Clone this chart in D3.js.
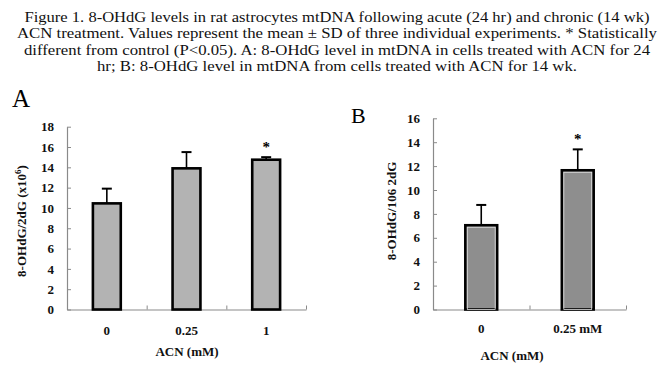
<!DOCTYPE html>
<html>
<head>
<meta charset="utf-8">
<script src="https://cdn.jsdelivr.net/npm/d3@7"></script>
<style>
  body { margin: 0; background: #fff; }
  svg { display: block; }
  text { font-family: "Liberation Serif", "Times New Roman", serif; }
</style>
</head>
<body>
<div id="graph"></div>
<script>
// constantes
const w = 669;
const h = 372;

// données - figure A (24 hr)
const catsA = ["0", "0.25", "1"];
const meanA = [10.45, 13.9, 14.75];
const sdA = [1.45, 1.6, 0.25];
const starA = [false, false, true];
const ticksA = [0, 2, 4, 6, 8, 10, 12, 14, 16, 18];

// données - figure B (14 wk)
const catsB = ["0", "0.25 mM"];
const meanB = [7.05, 11.65];
const sdB = [1.7, 1.75];
const starB = [false, true];
const ticksB = [0, 2, 4, 6, 8, 10, 12, 14, 16];

// légende (texte)
const titleLines = [
  "Figure 1. 8-OHdG levels in rat astrocytes mtDNA following acute (24 hr) and chronic (14 wk)",
  "ACN treatment. Values represent the mean \u00b1 SD of three individual experiments. * Statistically",
  "different from control (P<0.05). A: 8-OHdG level in mtDNA in cells treated with ACN for 24",
  "hr; B: 8-OHdG level in mtDNA from cells treated with ACN for 14 wk."
];
const titleWidths = [625, 640, 626, 480];

const svg = d3.select("#graph")
  .append("svg")
  .attr("width", w)
  .attr("height", h);

// titre
svg.append("g")
  .selectAll("text")
  .data(titleLines)
  .enter()
  .append("text")
  .attr("x", 337)
  .attr("y", (d, i) => 21.5 + i * 16.5)
  .attr("text-anchor", "middle")
  .attr("font-size", "15px")
  .attr("fill", "#111")
  .attr("textLength", (d, i) => titleWidths[i])
  .attr("lengthAdjust", "spacingAndGlyphs")
  .text(d => d);

// fonction de dessin d'un graphique
function barChart(opt) {
  const g = svg.append("g");

  const y = d3.scaleLinear().domain(opt.yDomain).range([opt.y0, opt.y1]);
  const x = d3.scaleBand().domain(opt.cats).range([opt.x0, opt.x1])
    .paddingInner(opt.pad).paddingOuter(opt.pad / 2);
  const xi = d3.scaleLinear().domain([0, opt.cats.length]).range([opt.x0, opt.x1]);

  // axe y
  const axeY = g.append("g")
    .attr("transform", "translate(" + opt.x0 + ",0)")
    .call(d3.axisLeft(y).tickValues(opt.ticks).tickSizeInner(-4).tickSizeOuter(0).tickPadding(13));
  axeY.select(".domain").attr("stroke", "#8a8a8a").attr("stroke-width", 1.2);
  axeY.selectAll(".tick line").attr("stroke", "#8a8a8a");
  axeY.selectAll(".tick text")
    .attr("font-family", "Liberation Serif")
    .attr("font-weight", "bold")
    .attr("font-size", "13px")
    .attr("fill", "#111");

  // axe x : graduations entre les catégories
  const axeXt = g.append("g")
    .attr("transform", "translate(0," + opt.y0 + ")")
    .call(d3.axisBottom(xi).ticks(opt.cats.length).tickSizeInner(-4).tickSizeOuter(0).tickFormat(""));
  axeXt.select(".domain").attr("stroke", "#8a8a8a").attr("stroke-width", 1.2);
  axeXt.selectAll(".tick line").attr("stroke", "#8a8a8a")
    .filter(d => d === 0).remove();

  // axe x : libellés
  const axeX = g.append("g")
    .attr("transform", "translate(0," + opt.y0 + ")")
    .call(d3.axisBottom(x).tickSize(0).tickPadding(opt.labPad));
  axeX.select(".domain").remove();
  axeX.selectAll(".tick text")
    .attr("font-family", "Liberation Serif")
    .attr("font-weight", "bold")
    .attr("font-size", "13px")
    .attr("fill", "#111");

  // barres d'erreur
  g.selectAll(".err")
    .data(opt.cats)
    .enter()
    .append("line")
    .attr("x1", d => x(d) + x.bandwidth() / 2)
    .attr("x2", d => x(d) + x.bandwidth() / 2)
    .attr("y1", (d, i) => y(opt.mean[i]))
    .attr("y2", (d, i) => y(opt.mean[i] + opt.sd[i]))
    .attr("stroke", "#000")
    .attr("stroke-width", 1.6);

  g.selectAll(".cap")
    .data(opt.cats)
    .enter()
    .append("line")
    .attr("x1", d => x(d) + x.bandwidth() / 2 - 5)
    .attr("x2", d => x(d) + x.bandwidth() / 2 + 5)
    .attr("y1", (d, i) => y(opt.mean[i] + opt.sd[i]))
    .attr("y2", (d, i) => y(opt.mean[i] + opt.sd[i]))
    .attr("stroke", "#000")
    .attr("stroke-width", 2);

  // barres
  g.selectAll(".bar")
    .data(opt.cats)
    .enter()
    .append("rect")
    .attr("x", d => x(d))
    .attr("y", (d, i) => y(opt.mean[i]))
    .attr("width", x.bandwidth())
    .attr("height", (d, i) => opt.y0 - y(opt.mean[i]))
    .attr("fill", opt.fill)
    .attr("stroke", "#000")
    .attr("stroke-width", 2.6);

  if (opt.inner) {
    g.selectAll(".inner")
      .data(opt.cats)
      .enter()
      .append("rect")
      .attr("x", d => x(d) + 2)
      .attr("y", (d, i) => y(opt.mean[i]) + 2)
      .attr("width", x.bandwidth() - 4)
      .attr("height", (d, i) => opt.y0 - y(opt.mean[i]) - 2)
      .attr("fill", "none")
      .attr("stroke", opt.inner)
      .attr("stroke-width", 0.8);
  }

  // étoiles
  g.selectAll(".star")
    .data(opt.cats.filter((d, i) => opt.star[i]))
    .enter()
    .append("text")
    .attr("x", d => x(d) + x.bandwidth() / 2)
    .attr("y", d => {
      const i = opt.cats.indexOf(d);
      return y(opt.mean[i] + opt.sd[i]) - 5;
    })
    .attr("text-anchor", "middle")
    .attr("font-weight", "bold")
    .attr("font-size", "15px")
    .text("*");

  // titre axe x
  g.append("text")
    .attr("x", opt.xLabX)
    .attr("y", opt.xLabY)
    .attr("text-anchor", "middle")
    .attr("font-weight", "bold")
    .attr("font-size", "13px")
    .attr("fill", "#111")
    .text("ACN (mM)");

  // titre axe y
  const yl = g.append("text")
    .attr("transform", "translate(" + opt.yLabX + "," + opt.yLabY + ") rotate(-90)")
    .attr("text-anchor", "middle")
    .attr("font-weight", "bold")
    .attr("font-size", "13px")
    .attr("fill", "#111");
  opt.yLab(yl);

  // lettre du panneau
  g.append("text")
    .attr("x", opt.letterX)
    .attr("y", opt.letterY)
    .attr("font-size", opt.letterSize)
    .attr("fill", "#000")
    .text(opt.letter);
}

barChart({
  cats: catsA, mean: meanA, sd: sdA, star: starA, ticks: ticksA,
  yDomain: [0, 18], y0: 309.5, y1: 126.7,
  x0: 67, x1: 306, pad: 0.65, labPad: 16,
  fill: "#b3b3b3", inner: null,
  xLabX: 187, xLabY: 356,
  yLabX: 26, yLabY: 221,
  yLab: t => {
    t.append("tspan").text("8-OHdG/2dG (x10");
    t.append("tspan").attr("dy", -5).attr("font-size", "9px").text("6");
    t.append("tspan").attr("dy", 5).text(")");
  },
  letter: "A", letterX: 12, letterY: 107, letterSize: "25px"
});

barChart({
  cats: catsB, mean: meanB, sd: sdB, star: starB, ticks: ticksB,
  yDomain: [0, 16], y0: 309.5, y1: 118.3,
  x0: 433, x1: 626, pad: 0.67, labPad: 14,
  fill: "#8e8e8e", inner: "#e0e0e0",
  xLabX: 512, xLabY: 360,
  yLabX: 396, yLabY: 211,
  yLab: t => t.text("8-OHdG/106 2dG"),
  letter: "B", letterX: 351, letterY: 123, letterSize: "22px"
});
</script>
</body>
</html>
